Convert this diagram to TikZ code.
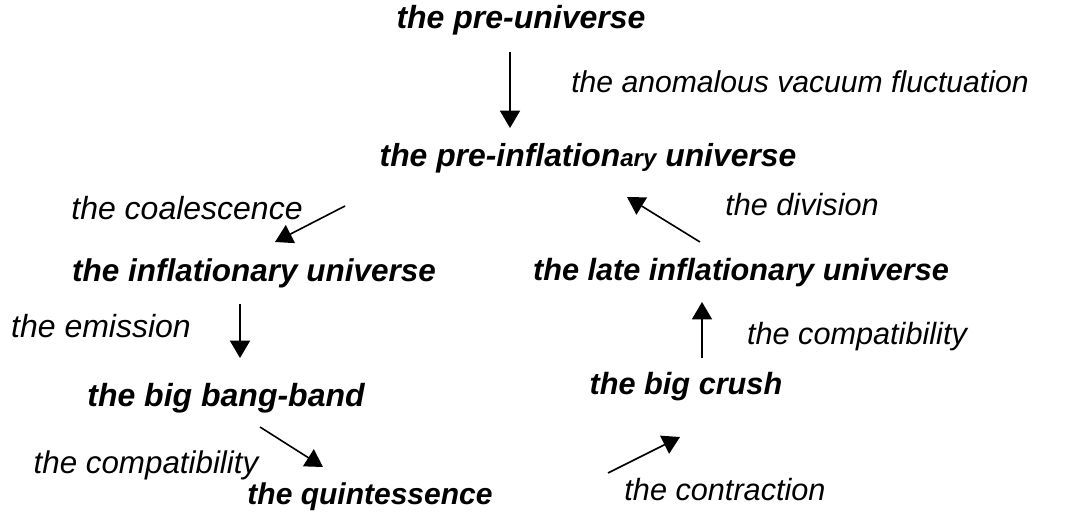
\documentclass[tikz,border=0pt]{standalone}
\usepackage{fontspec}
\setmainfont{Liberation Sans}
\usetikzlibrary{arrows.meta}
\begin{document}
\begin{tikzpicture}[x=0.75pt, y=-0.75pt, stage/.style={font=\fontsize{23}{25}\selectfont\bfseries\itshape, inner sep=0pt}, step label/.style={font=\fontsize{23.5}{25}\selectfont\itshape, inner sep=0pt}, every path/.style={line width=1.2pt, -{Triangle[length=13pt, width=15pt]}}]
	\useasboundingbox (0,0) rectangle (1067,521);
		\node[stage, font=\fontsize{24}{26}\selectfont\bfseries\itshape] (pre) at (521, 20) {the pre-universe};
		\node[stage, font=\fontsize{23.9}{26}\selectfont\bfseries\itshape] (preinfl) at (588, 158) {the pre-inflation{\fontsize{18}{20}\selectfont ary} universe};
		\node[stage, font=\fontsize{23.6}{26}\selectfont\bfseries\itshape] (infl) at (254, 273) {the inflationary universe};
		\node[stage] (late) at (741, 273) {the late inflationary universe};
		\node[stage, font=\fontsize{24}{26}\selectfont\bfseries\itshape] (bang) at (226, 398) {the big bang-band};
		\node[stage] (crush) at (686, 387) {the big crush};
		\node[stage, font=\fontsize{22.5}{24}\selectfont\bfseries\itshape] (quint) at (370, 497) {the quintessence};

		\node[step label, font=\fontsize{22.6}{24}\selectfont\itshape] (anom) at (800, 82) {the anomalous vacuum fluctuation};
		\node[step label, font=\fontsize{24}{26}\selectfont\itshape] (coal) at (187, 208) {the coalescence};
		\node[step label, font=\fontsize{23}{25}\selectfont\itshape] (div) at (802, 205) {the division};
		\node[step label, font=\fontsize{24}{26}\selectfont\itshape] (emis) at (101, 326) {the emission};
		\node[step label, font=\fontsize{23}{25}\selectfont\itshape] (compr) at (857, 337) {the compatibility};
		\node[step label] (compl) at (146, 465) {the compatibility};
		\node[step label, font=\fontsize{23}{25}\selectfont\itshape] (contr) at (725, 490) {the contraction};

		% free arrow ends
		\coordinate (a1) at (510, 52);   \coordinate (b1) at (510, 128);
		\coordinate (a2) at (345, 206);  \coordinate (b2) at (275, 242);
		\coordinate (a3) at (240, 304);  \coordinate (b3) at (240, 358);
		\coordinate (a4) at (260, 427);  \coordinate (b4) at (323, 467);
		\coordinate (a5) at (608, 473);  \coordinate (b5) at (680, 437);
		\coordinate (a6) at (702, 358);  \coordinate (b6) at (702, 302);
		\coordinate (a7) at (700, 242);  \coordinate (b7) at (627, 197);

		\draw (a1) -- (b1);
		\draw (a2) -- (b2);
		\draw (a3) -- (b3);
		\draw (a4) -- (b4);
		\draw (a5) -- (b5);
		\draw (a6) -- (b6);
		\draw (a7) -- (b7);
\end{tikzpicture}
\end{document}
